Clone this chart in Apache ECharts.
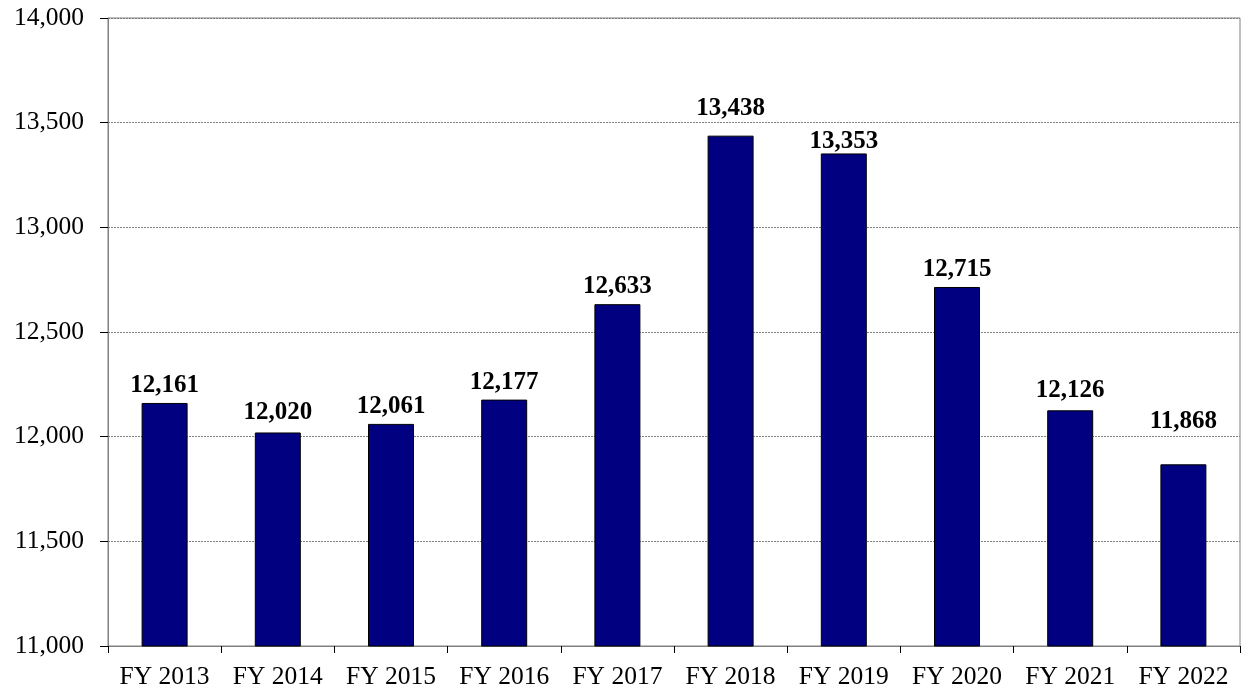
<!DOCTYPE html>
<html><head><meta charset="utf-8">
<script src="https://cdn.jsdelivr.net/npm/echarts@6/dist/echarts.min.js"></script>
<style>html,body{margin:0;padding:0;background:#fff}#c{width:1241px;height:694px}</style>
</head><body><div id="c"></div>
<script>
const categories = ['FY 2013','FY 2014','FY 2015','FY 2016','FY 2017','FY 2018','FY 2019','FY 2020','FY 2021','FY 2022'];
const values = [12161,12020,12061,12177,12633,13438,13353,12715,12126,11868];
const yMin = 11000, yMax = 14000, yStep = 500;

// label placement tweaks (style only), by category index
const labelDistance = {1:7, 5:15, 6:-1, 8:7, 9:30};
const font = '"Liberation Serif","Times New Roman",serif';
const chart = echarts.init(document.getElementById('c'), null, {renderer:'canvas'});
chart.setOption({
  animation:false,
  grid:{left:108,right:1,top:18,bottom:48,show:true,borderColor:'#808080',borderWidth:1,backgroundColor:'transparent'},
  xAxis:{type:'category',data:categories,
    axisLine:{lineStyle:{color:'#808080',width:1}},
    axisTick:{show:true,length:7,interval:0,lineStyle:{color:'#000'}},
    axisLabel:{color:'#000',fontFamily:font,fontSize:25.5,margin:18,interval:0,hideOverlap:false}},
  yAxis:{type:'value',min:yMin,max:yMax,interval:yStep,
    axisLine:{show:true,lineStyle:{color:'#808080'}},
    axisTick:{show:true,length:8,inside:false,lineStyle:{color:'#000'}},
    splitLine:{show:true,lineStyle:{color:'#808080',type:[2,1],width:1}},
    axisLabel:{color:'#000',fontFamily:font,fontSize:25.5,margin:24,
      formatter:v=>v.toLocaleString('en-US')}},
  series:[{type:'bar',barWidth:46,
    data: values.map((v,i)=>({value:v, label:{distance: (labelDistance[i] ?? 5)}})),
    itemStyle:{color:'#000080',borderColor:'#000',borderWidth:1},
    label:{show:true,position:'top',color:'#000',fontFamily:font,fontSize:25,fontWeight:'bold',
      formatter:p=>p.value.toLocaleString('en-US')}}]
});
</script></body></html>
